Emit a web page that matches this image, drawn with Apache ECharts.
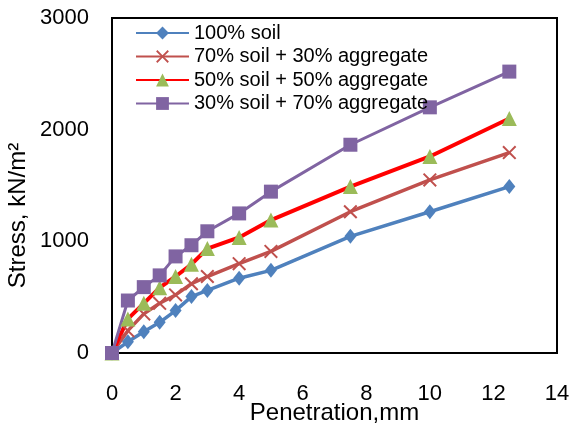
<!DOCTYPE html>
<html>
<head>
  <meta charset="utf-8">
  <title>Stress vs penetration</title>
  <style>
    html, body { margin: 0; padding: 0; background: #fff; }
    #main { width: 573px; height: 430px; }
  </style>
</head>
<body>
<div id="main"></div>
<script src="https://cdn.jsdelivr.net/npm/echarts@6.0.0/dist/echarts.min.js"></script>
<script>
  // penetration, mm
  var penetration = [0, 0.5, 1, 1.5, 2, 2.5, 3, 4, 5, 7.5, 10, 12.5];
  // stress, kN/m2
  var soil100 = [0, 100, 190, 275, 380, 505, 560, 670, 740, 1045, 1265, 1490];
  var soil70agg30 = [0, 200, 350, 445, 520, 620, 685, 800, 910, 1265, 1550, 1795];
  var soil50agg50 = [0, 305, 445, 585, 685, 795, 935, 1035, 1190, 1490, 1760, 2100];
  var soil30agg70 = [0, 470, 590, 695, 865, 965, 1090, 1250, 1445, 1865, 2200, 2520];
  var names = ['100% soil', '70% soil + 30% aggregate', '50% soil + 50% aggregate', '30% soil + 70% aggregate'];

  function pairs(ys) {
    return penetration.map(function (x, i) { return [x, ys[i]]; });
  }

  var font = 'Liberation Sans, Arial, sans-serif';
  var myChart = echarts.init(document.getElementById('main'));
  myChart.setOption({
    animation: false,
    textStyle: { fontFamily: font },
    grid: {
      left: 112, right: 16, top: 18, bottom: 77,
      outerBoundsMode: 'none',
      show: true, borderColor: '#000', borderWidth: 2
    },
    legend: {
      orient: 'vertical',
      left: 135, top: 23, padding: 0,
      itemWidth: 53, itemHeight: 16, itemGap: 3.5,
      textStyle: { fontSize: 20, lineHeight: 20, color: '#000', fontFamily: font },
      data: names
    },
    xAxis: {
      type: 'value',
      min: 0, max: 14, interval: 2,
      name: 'Penetration,mm',
      nameLocation: 'middle', nameGap: 48,
      nameMoveOverlap: false,
      nameTextStyle: { fontSize: 24, color: '#000' },
      axisLine: { lineStyle: { color: '#000', width: 2 } },
      axisTick: { show: false },
      splitLine: { show: false },
      axisLabel: { fontSize: 22, color: '#000', margin: 30 }
    },
    yAxis: {
      type: 'value',
      min: 0, max: 3000, interval: 1000,
      name: 'Stress, kN/m²',
      nameLocation: 'middle', nameGap: 82,
      nameMoveOverlap: false,
      nameTextStyle: { fontSize: 24, color: '#000', padding: [0, 60, 0, 0] },
      axisLine: { show: true, lineStyle: { color: '#000', width: 2 } },
      axisTick: { show: false },
      splitLine: { show: false },
      axisLabel: {
        fontSize: 22, color: '#000', margin: 23,
        formatter: function (v) { return String(v); }
      }
    },
    series: [
      {
        name: names[0], type: 'line', data: pairs(soil100),
        symbol: 'diamond', symbolSize: [12, 15],
        lineStyle: { color: '#4F81BD', width: 3.5 },
        itemStyle: { color: '#4F81BD' }
      },
      {
        name: names[1], type: 'line', data: pairs(soil70agg30),
        symbol: 'path://M0,2 L2,0 L10,8 L18,0 L20,2 L12,10 L20,18 L18,20 L10,12 L2,20 L0,18 L8,10 Z',
        symbolSize: 14,
        lineStyle: { color: '#C0504D', width: 3.5 },
        itemStyle: { color: '#C0504D' }
      },
      {
        name: names[2], type: 'line', data: pairs(soil50agg50),
        symbol: 'triangle', symbolSize: 15,
        lineStyle: { color: '#FF0000', width: 4 },
        itemStyle: { color: '#9BBB59' }
      },
      {
        name: names[3], type: 'line', data: pairs(soil30agg70),
        symbol: 'rect', symbolSize: 14,
        lineStyle: { color: '#8064A2', width: 3 },
        itemStyle: { color: '#8064A2' }
      }
    ]
  });
</script>
</body>
</html>
